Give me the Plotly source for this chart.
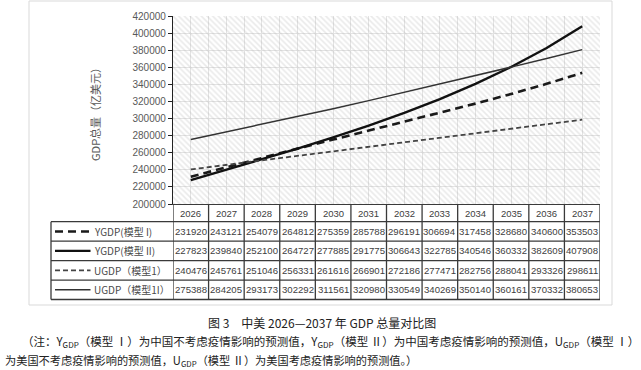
import plotly.graph_objects as go

years = [2026, 2027, 2028, 2029, 2030, 2031, 2032, 2033, 2034, 2035, 2036, 2037]
ygdp_1 = [231920, 243121, 254079, 264812, 275359, 285788, 296191, 306694, 317458, 328680, 340600, 353503]
ygdp_2 = [227823, 239840, 252100, 264727, 277885, 291775, 306643, 322785, 340546, 360332, 382609, 407908]
ugdp_1 = [240476, 245761, 251046, 256331, 261616, 266901, 272186, 277471, 282756, 288041, 293326, 298611]
ugdp_2 = [275388, 284205, 293173, 302292, 311561, 320980, 330549, 340269, 350140, 360161, 370332, 380653]
series_names = ["YGDP(模型 I)", "YGDP(模型 II)", "UGDP（模型1）", "UGDP（模型1I）"]
series_vals = [ygdp_1, ygdp_2, ugdp_1, ugdp_2]
y_title = "GDP总量（亿美元）"
caption = "图 3　中美 2026—2037 年 GDP 总量对比图"
note1 = "（注：Y<sub>GDP</sub>（模型 Ⅰ）为中国不考虑疫情影响的预测值，Y<sub>GDP</sub>（模型 Ⅱ）为中国考虑疫情影响的预测值，U<sub>GDP</sub>（模型 Ⅰ）"
note2 = "为美国不考虑疫情影响的预测值，U<sub>GDP</sub>（模型 Ⅱ）为美国考虑疫情影响的预测值。）"

W, H = 641, 370
ML, MR, MT, MB = 173, 41, 16, 166
PW, PH = W - ML - MR, H - MT - MB
YMIN, YMAX = 200000, 420000
XMIN, XMAX = years[0] - 0.5, years[-1] + 0.5


def px(p):
    return (p - ML) / PW


def py(p):
    return (H - MB - p) / PH


styles = [
    dict(color="#1a1a1a", width=2.6, dash="8px,5px"),
    dict(color="#111111", width=2.4, dash="solid"),
    dict(color="#444444", width=1.8, dash="5px,3px"),
    dict(color="#333333", width=1.5, dash="solid"),
]

fig = go.Figure()
# hatched plot background
fig.add_trace(go.Scatter(
    x=[XMIN, XMAX, XMAX, XMIN, XMIN], y=[YMIN, YMIN, YMAX, YMAX, YMIN],
    mode="lines", fill="toself", line=dict(width=0),
    fillcolor="rgba(0,0,0,0)",
    fillpattern=dict(shape="\\", fgcolor="rgba(160,160,160,0.45)", bgcolor="rgba(0,0,0,0)",
                     size=4, solidity=0.4),
    hoverinfo="skip", showlegend=False))

for name, vals, st in zip(series_names, series_vals, styles):
    fig.add_trace(go.Scatter(x=years, y=vals, mode="lines", name=name, line=st, showlegend=False))

shapes = []
annotations = []
LC = "#3a3a3a"
# outer frame
shapes.append(dict(type="rect", xref="paper", yref="paper", x0=px(29), x1=px(612), y0=py(1), y1=py(305),
                   line=dict(color="#d9d9d9", width=1), layer="below"))

row_top = 221.7
row_h = 19.45
row_lines = [row_top + i * row_h for i in range(5)]
table_left = 51
table_bottom = row_lines[-1]
for yl in row_lines:
    shapes.append(dict(type="line", xref="paper", yref="paper", x0=px(table_left), x1=1,
                       y0=py(yl), y1=py(yl), line=dict(color=LC, width=1.3)))
shapes.append(dict(type="line", xref="paper", yref="paper", x0=px(table_left), x1=px(table_left),
                   y0=py(row_top), y1=py(table_bottom), line=dict(color=LC, width=1.3)))
for b in [XMIN] + [y + 0.5 for y in years]:
    shapes.append(dict(type="line", xref="x", yref="paper", x0=b, x1=b,
                       y0=0, y1=py(table_bottom), line=dict(color=LC, width=1.3)))

for yr in years:
    annotations.append(dict(x=yr, xref="x", y=py(213), yref="paper", text=str(yr), showarrow=False,
                            xanchor="center", yanchor="middle",
                            font=dict(family="Liberation Sans", size=9.5, color="#404040")))
for i, (name, vals, st) in enumerate(zip(series_names, series_vals, styles)):
    cy = row_top + (i + 0.5) * row_h
    for yr, v in zip(years, vals):
        annotations.append(dict(x=yr, xref="x", y=py(cy), yref="paper", text=str(v), showarrow=False,
                                xanchor="center", yanchor="middle",
                                font=dict(family="Liberation Sans", size=9.6, color="#404040")))
    shapes.append(dict(type="line", xref="paper", yref="paper", x0=px(55), x1=px(90.5),
                       y0=py(cy), y1=py(cy), line=st))
    annotations.append(dict(x=px(92), xref="paper", y=py(cy), yref="paper", text=name, showarrow=False,
                            xanchor="left", yanchor="middle",
                            font=dict(family="Noto Sans CJK SC", size=10, color="#4a4a4a")))

annotations.append(dict(x=px(95), xref="paper", y=py(112), yref="paper", text=y_title, textangle=-90,
                        showarrow=False, xanchor="center", yanchor="middle",
                        font=dict(family="Noto Sans CJK SC", size=11, color="#595959")))
annotations.append(dict(x=px(322), xref="paper", y=py(322), yref="paper", text=caption, showarrow=False,
                        xanchor="center", yanchor="middle",
                        font=dict(family="Noto Sans CJK SC", size=12, color="#222222")))
annotations.append(dict(x=px(20), xref="paper", y=py(341), yref="paper", text=note1, showarrow=False,
                        xanchor="left", yanchor="middle",
                        font=dict(family="Noto Sans CJK SC", size=11.5, color="#222222")))
annotations.append(dict(x=px(3), xref="paper", y=py(360), yref="paper", text=note2, showarrow=False,
                        xanchor="left", yanchor="middle",
                        font=dict(family="Noto Sans CJK SC", size=11.2, color="#222222")))

fig.update_layout(
    width=W, height=H, margin=dict(l=ML, r=MR, t=MT, b=MB, autoexpand=False),
    paper_bgcolor="white", plot_bgcolor="white",
    shapes=shapes, annotations=annotations, showlegend=False,
    xaxis=dict(range=[XMIN, XMAX], dtick=0.5, tick0=XMIN, showticklabels=False, ticks="",
               showgrid=True, gridcolor="#e3e3e3", gridwidth=1, zeroline=False, automargin=False,
               showline=True, linecolor=LC, linewidth=1.3),
    yaxis=dict(range=[YMIN, YMAX], dtick=20000, tickformat="d", showgrid=True, gridcolor="#e3e3e3",
               gridwidth=1, automargin=False,
               zeroline=False, showline=True, linecolor="#222222", linewidth=1.3,
               ticks="outside", ticklen=4, tickcolor="#222222",
               tickfont=dict(family="Liberation Sans", size=10, color="#595959")),
)

fig.write_html("out.html", config={"displayModeBar": False},
               post_script="document.body.style.margin='0';")
